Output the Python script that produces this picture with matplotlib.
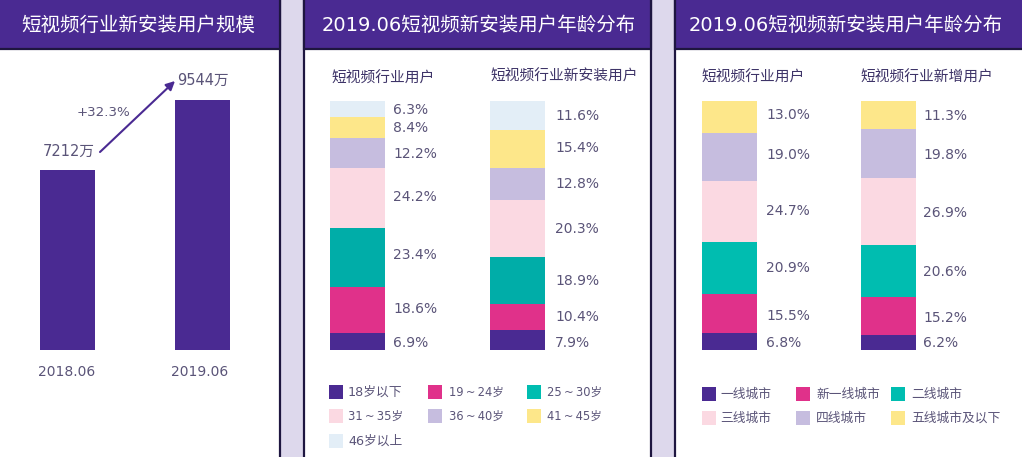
import matplotlib
matplotlib.use('Agg')
import matplotlib.pyplot as plt
from matplotlib.patches import Rectangle

plt.rcParams['font.family'] = ['DejaVu Sans', 'Noto Sans CJK SC']

W, H = 1022, 457
PURPLE = '#4A2A92'
DARK = '#1E1640'
TXT = '#5A5478'
BG = '#DDD8EC'
COLORS = ['#4A2A92', '#E0318A', '#00BDB0', '#FBD9E2', '#C6BDDF', '#FDE78A', '#E3EEF7']
TEAL_DARK = '#00ADA8'

titles = ['短视频行业新安装用户规模', '2019.06短视频新安装用户年龄分布', '2019.06短视频新安装用户年龄分布']
scale_periods = ['2018.06', '2019.06']
scale_values = [7212, 9544]
scale_labels = ['7212万', '9544万']
growth_label = '+32.3%'

age_names = ['18岁以下', '19\u2009~\u200924岁', '25\u2009~\u200930岁', '31\u2009~\u200935岁',
             '36\u2009~\u200940岁', '41\u2009~\u200945岁', '46岁以上']
age_all = [6.9, 18.6, 23.4, 24.2, 12.2, 8.4, 6.3]
# the fourth segment is drawn taller than its printed 20.3%
age_new = [7.9, 10.4, 18.9, 23.0, 12.8, 15.4, 11.6]
age_new_labels = [7.9, 10.4, 18.9, 20.3, 12.8, 15.4, 11.6]
city_names = ['一线城市', '新一线城市', '二线城市', '三线城市', '四线城市', '五线城市及以下']
city_all = [6.8, 15.5, 20.9, 24.7, 19.0, 13.0]
city_new = [6.2, 15.2, 20.6, 26.9, 19.8, 11.3]

fig = plt.figure(figsize=(W / 100, H / 100), dpi=100, facecolor=BG)

def px_axes(x0, y0, x1, y1, **kw):
    ax = fig.add_axes([x0 / W, 1 - y1 / H, (x1 - x0) / W, (y1 - y0) / H], **kw)
    ax.axis('off')
    return ax

def txt(x, y, s, **kw):
    kw.setdefault('color', TXT)
    kw.setdefault('fontsize', 10)
    kw.setdefault('ha', 'left')
    kw.setdefault('va', 'center')
    fig.text(x / W, 1 - y / H, s, **kw)

def rect(x0, y0, x1, y1, z=-1, **kw):
    fig.add_artist(Rectangle((x0 / W, 1 - y1 / H), (x1 - x0) / W, (y1 - y0) / H,
                             transform=fig.transFigure, zorder=z, **kw))

# panels
for (x0, x1), title, tc in zip([(-3, 280), (304, 651), (675, 1025)], titles, [138, 478.5, 846]):
    rect(x0, -3, x1, H + 3, facecolor='white', edgecolor=DARK, linewidth=1.6)
    rect(x0, -3, x1, 49, facecolor=PURPLE, edgecolor=DARK, linewidth=1.6)
    txt(tc, 25, title, color='white', fontsize=14, ha='center')

# panel 1
ax = px_axes(0, 100, 280, 350)
ax.bar([0, 1], scale_values, width=0.407, color=PURPLE)
ax.set_xlim(-0.5, (280 - 67.5) / 135)
ax.set_ylim(1215, 9544)
for per, x in zip(scale_periods, [67, 200]):
    txt(x, 372, per, ha='center', fontsize=10)
txt(69, 151, scale_labels[0], ha='center', fontsize=10.5)
txt(203, 80, scale_labels[1], ha='center', fontsize=10.5)
txt(103, 113, growth_label, ha='center', fontsize=9.6)
ov = px_axes(0, 0, W, H)
ov.set_xlim(0, W); ov.set_ylim(H, 0); ov.patch.set_alpha(0)
ov.annotate('', xy=(175, 81), xytext=(100, 152),
            arrowprops=dict(arrowstyle='-|>', color=PURPLE, lw=1.5, mutation_scale=13, shrinkA=0, shrinkB=0))

def stack(x0, x1, values, labels, heading, hx, hy, ltx, lys, teal=COLORS[2], ytop=101, ybot=350):
    a = px_axes(x0, ytop, x1, ybot)
    a.set_xlim(-0.5, 0.5)
    a.set_ylim(0, sum(values))
    b = 0
    cols = COLORS[:2] + [teal] + COLORS[3:]
    for v, c in zip(values, cols):
        a.bar(0, v, bottom=b, width=1, color=c)
        b += v
    for v, y in zip(labels, lys):
        txt(ltx, y, f'{v:.1f}%', fontsize=10)
    txt(hx, hy, heading, fontsize=10.6, color='#3E3468')

stack(330, 385, age_all, age_all, '短视频行业用户', 331, 78, 393,
      [343, 309, 255, 197, 154, 128, 110], teal=TEAL_DARK)
stack(490, 545, age_new, age_new_labels, '短视频行业新安装用户', 490, 76, 555,
      [343, 317, 281, 229, 184, 148, 116], teal=TEAL_DARK)
stack(702, 757, city_all, city_all, '短视频行业用户', 701, 77, 766,
      [343, 316, 268, 211, 155, 115])
stack(861, 916, city_new, city_new, '短视频行业新增用户', 860, 77, 923,
      [343, 318, 272, 213, 155, 116])

def legend(names, xs, xt, ys):
    for i, n in enumerate(names):
        r, c = divmod(i, 3)
        rect(xs[c], ys[r] - 7, xs[c] + 14, ys[r] + 7, z=2, facecolor=COLORS[i], edgecolor='none')
        size = 8.3 if '~' in n else 9.2
        txt(xt[c], ys[r], n, fontsize=size)

legend(age_names, [329, 428, 527], [348, 449, 547], [392, 416, 441])
legend(city_names, [702, 796, 891], [720, 816, 911], [394, 418])

fig.savefig('out.png', dpi=100, facecolor=BG)
